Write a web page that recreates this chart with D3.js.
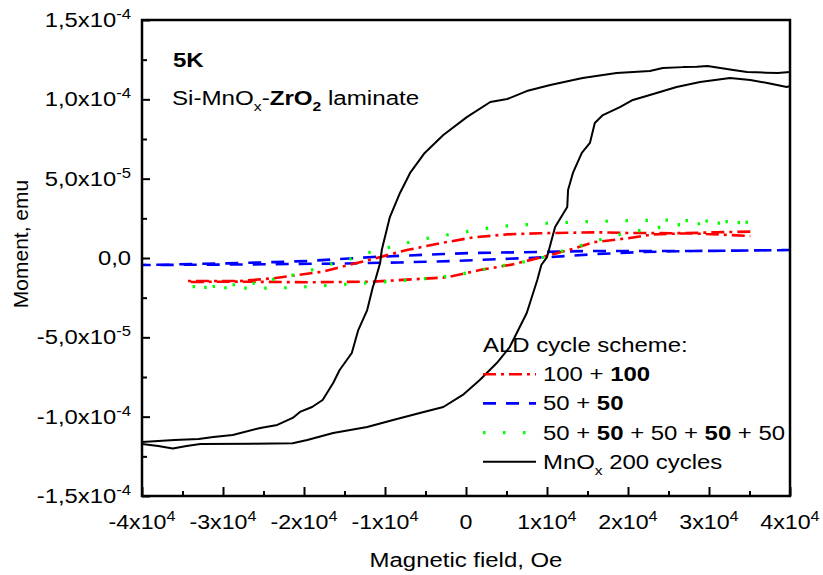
<!DOCTYPE html>
<html>
<head>
<meta charset="utf-8">
<script src="https://cdn.jsdelivr.net/npm/d3@7"></script>
<style>
  html, body { margin: 0; padding: 0; background: #fff; }
  svg text { font-family: "Liberation Sans", Arial, Helvetica, sans-serif; fill: #000; }
</style>
</head>
<body>
<svg id="chart" width="823" height="575"></svg>
<script>
// ---- axis ticks ----
const fieldTicks = [-40000, -30000, -20000, -10000, 0, 10000, 20000, 30000, 40000];
const fieldMinorTicks = [-35000, -25000, -15000, -5000, 5000, 15000, 25000, 35000];
const momentTicks = [-1.5e-4, -1.0e-4, -5.0e-5, 0, 5.0e-5, 1.0e-4, 1.5e-4];
const momentMinorTicks = [-1.25e-4, -7.5e-5, -2.5e-5, 2.5e-5, 7.5e-5, 1.25e-4];

// ---- hysteresis loops: [field (Oe), moment (emu)], field sweep down then up ----
const mnox200 = [
  [40000, 1.172e-4], [38500, 1.166e-4], [37000, 1.168e-4], [34700, 1.172e-4], [33000, 1.185e-4],
  [31400, 1.197e-4], [29800, 1.210e-4], [28500, 1.205e-4], [26800, 1.203e-4], [24300, 1.197e-4],
  [22700, 1.178e-4], [18600, 1.166e-4], [14400, 1.134e-4], [10400, 1.090e-4], [7500, 1.052e-4],
  [5100, 1.002e-4], [3000, 0.983e-4], [100, 0.888e-4], [-2800, 0.775e-4], [-5100, 0.662e-4],
  [-6900, 0.536e-4], [-8150, 0.410e-4], [-9400, 0.258e-4], [-10400, 0.050e-4], [-10600, -0.032e-4],
  [-11200, -0.139e-4], [-11500, -0.183e-4], [-12200, -0.328e-4], [-13300, -0.454e-4], [-14100, -0.599e-4],
  [-15600, -0.706e-4], [-16400, -0.788e-4], [-17700, -0.895e-4], [-19000, -0.939e-4], [-20500, -0.970e-4],
  [-21400, -1.008e-4], [-23300, -1.052e-4], [-25400, -1.071e-4], [-28800, -1.115e-4], [-31200, -1.128e-4],
  [-33000, -1.141e-4], [-36000, -1.147e-4], [-40000, -1.160e-4],
  [-40000, -1.172e-4], [-38000, -1.185e-4], [-36200, -1.200e-4], [-34500, -1.185e-4], [-32800, -1.172e-4],
  [-26300, -1.170e-4], [-21400, -1.168e-4], [-19600, -1.147e-4], [-16400, -1.103e-4], [-12200, -1.065e-4],
  [-9000, -1.021e-4], [-5700, -0.977e-4], [-2800, -0.939e-4], [-400, -0.863e-4], [1700, -0.769e-4],
  [3800, -0.662e-4], [5400, -0.561e-4], [7500, -0.347e-4], [8800, -0.139e-4], [9300, -0.044e-4],
  [10000, 0.006e-4], [11000, 0.195e-4], [12500, 0.321e-4], [12600, 0.428e-4], [13200, 0.536e-4],
  [14300, 0.662e-4], [15300, 0.725e-4], [15900, 0.851e-4], [16900, 0.901e-4], [19000, 0.951e-4],
  [20600, 0.996e-4], [22700, 1.027e-4], [26000, 1.078e-4], [28900, 1.109e-4], [32600, 1.134e-4],
  [35100, 1.122e-4], [37200, 1.103e-4], [39600, 1.078e-4], [40000, 1.084e-4]
];

const scheme100 = [
  [35100, 16.6e-6], [31000, 16.2e-6], [25600, 15.6e-6], [19900, 15.8e-6], [16200, 16.2e-6],
  [9100, 15.6e-6], [5100, 14.9e-6], [900, 13.0e-6], [-3200, 9.3e-6], [-7300, 5.0e-6],
  [-13500, -3.2e-6], [-17700, -8.6e-6], [-23800, -12.8e-6], [-27900, -14.5e-6], [-34400, -14.5e-6],
  [-34400, -15.1e-6], [-27900, -14.9e-6], [-19600, -15.3e-6], [-11500, -14.9e-6], [-2400, -12.2e-6],
  [1700, -7.6e-6], [5800, -4.0e-6], [9100, 0.2e-6], [13200, 5.7e-6], [15700, 9.9e-6],
  [19900, 12.4e-6], [23100, 14.9e-6], [27700, 15.6e-6], [35100, 13.9e-6]
];

const scheme50 = [
  [40000, 5.0e-6], [28000, 4.4e-6], [15300, 4.4e-6], [9500, 3.8e-6], [900, 3.2e-6],
  [-2800, 2.5e-6], [-4400, 2.2e-6], [-11500, 0.6e-6], [-19600, -1.9e-6], [-27900, -3.2e-6],
  [-40000, -4.4e-6],
  [-40000, -4.4e-6], [-27900, -4.1e-6], [-15600, -3.5e-6], [-8200, -2.8e-6], [-1600, -1.9e-6],
  [4600, -0.6e-6], [10400, 0.6e-6], [16200, 2.5e-6], [21900, 3.8e-6], [28000, 4.4e-6],
  [40000, 5.0e-6]
];

const scheme5x50 = [
  [34800, 22.5e-6], [29800, 23.3e-6], [24800, 23.9e-6], [19900, 23.5e-6], [14900, 22.9e-6],
  [10000, 21.9e-6], [5100, 20.2e-6], [2600, 18.7e-6], [100, 16.6e-6], [-2400, 14.5e-6],
  [-4800, 12.4e-6], [-7300, 9.6e-6], [-12100, 3.3e-6], [-14300, -0.6e-6], [-16800, -4.0e-6],
  [-19300, -8.0e-6], [-21700, -11.2e-6], [-24200, -13.9e-6], [-26700, -16.4e-6], [-29100, -17.0e-6],
  [-31600, -18.1e-6], [-34100, -18.1e-6],
  [-34100, -18.3e-6], [-26300, -19.1e-6], [-21400, -18.7e-6], [-16200, -17.0e-6], [-8500, -14.5e-6],
  [-3600, -12.4e-6], [-1100, -10.7e-6], [1400, -8.0e-6], [3800, -5.5e-6], [6300, -3.3e-6],
  [8800, -0.8e-6], [11000, 3.0e-6], [13300, 6.5e-6], [15700, 10.3e-6], [18200, 13.9e-6],
  [20600, 16.6e-6], [23100, 18.7e-6], [25600, 20.8e-6], [28000, 21.4e-6], [30500, 21.9e-6],
  [33000, 22.2e-6], [34800, 22.5e-6]
];

// legend text runs: [text, style]  style: "" | "b" | "sub" | "bsub"
const legendTitle = "ALD cycle scheme:";
const legendLabels = [
  [["100 + ", ""], ["100", "b"]],
  [["50 + ", ""], ["50", "b"]],
  [["50 + ", ""], ["50", "b"], [" + 50 + ", ""], ["50", "b"], [" + 50", ""]],
  [["MnO", ""], ["x", "sub"], [" 200 cycles", ""]]
];
const annotationTemp = "5K";
const annotationSample = [["Si-MnO", ""], ["x", "sub"], ["-", ""], ["ZrO", "b"], ["2", "bsub"], [" laminate", ""]];
const xTitle = "Magnetic field, Oe";
const yTitle = "Moment, emu";

// ---- series drawing order and styles ----
const seriesList = [
  { data: scheme50,   color: "#0000ff", dash: "13 10",        width: 2.6 },
  { data: scheme100,  color: "#ff0000", dash: "13 5 3 5",     width: 2.6 },
  { data: scheme5x50, color: "#00ff00", dash: "2.5 17.5",     width: 3.2 },
  { data: mnox200,    color: "#000000", dash: null,           width: 2.0 }
];
const legendOrder = [1, 0, 2, 3];

// ---- layout ----
const svg = d3.select("#chart");
const plotL = 142, plotT = 20, plotR = 790, plotB = 496;
const stretch = 1.14;      // horizontal widening of the lettering

const x = d3.scaleLinear().domain([-40000, 40000]).range([plotL, plotR]);
const y = d3.scaleLinear().domain([-1.5e-4, 1.5e-4]).range([plotB, plotT]);

function sciParts(v, digits) {
  if (v === 0) return [digits ? (0).toFixed(digits).replace(".", ",") : "0", null];
  const e = Math.floor(Math.log10(Math.abs(v)) + 1e-9);
  const m = v / Math.pow(10, e);
  return [m.toFixed(digits).replace(".", ",") + "x10", String(e)];
}

// text placed at (px, py), widened horizontally by sx
function addText(px, py, size, anchor, sx) {
  return svg.append("text")
    .attr("transform", `translate(${px},${py}) scale(${sx},1)`)
    .attr("x", 0).attr("y", 0)
    .attr("text-anchor", anchor)
    .attr("font-size", size);
}

function addRuns(textSel, runs, size) {
  let shift = 0;
  runs.forEach(([t, style]) => {
    const ts = textSel.append("tspan").text(t);
    if (style === "b" || style === "bsub") ts.attr("font-weight", "bold");
    const isSub = style === "sub" || style === "bsub";
    const target = isSub ? size * 0.28 : 0;
    if (target !== shift) { ts.attr("dy", target - shift); shift = target; }
    if (isSub) ts.attr("font-size", size * 0.65);
  });
}

// ---- plot lines (clipped to frame) ----
svg.append("clipPath").attr("id", "plotClip")
  .append("rect").attr("x", plotL).attr("y", plotT).attr("width", plotR - plotL).attr("height", plotB - plotT);

const line = d3.line().x(d => x(d[0])).y(d => y(d[1]));
const plot = svg.append("g").attr("clip-path", "url(#plotClip)");
seriesList.forEach(s => {
  plot.append("path")
    .datum(s.data)
    .attr("d", line)
    .attr("fill", "none")
    .attr("stroke", s.color)
    .attr("stroke-width", s.width)
    .attr("stroke-linejoin", "round")
    .attr("stroke-dasharray", s.dash);
});

// ---- axes (ticks pointing inward) ----
const tickStroke = 2;
const xAxis = svg.append("g").attr("transform", `translate(0,${plotB})`)
  .call(d3.axisBottom(x).tickValues(fieldTicks).tickSizeInner(-9).tickSizeOuter(0).tickFormat(""));
const xMinor = svg.append("g").attr("transform", `translate(0,${plotB})`)
  .call(d3.axisBottom(x).tickValues(fieldMinorTicks).tickSizeInner(-5).tickSizeOuter(0).tickFormat(""));
const yAxis = svg.append("g").attr("transform", `translate(${plotL},0)`)
  .call(d3.axisLeft(y).tickValues(momentTicks).tickSizeInner(-8).tickSizeOuter(0).tickFormat(""));
const yMinor = svg.append("g").attr("transform", `translate(${plotL},0)`)
  .call(d3.axisLeft(y).tickValues(momentMinorTicks).tickSizeInner(-5).tickSizeOuter(0).tickFormat(""));
[xAxis, xMinor, yAxis, yMinor].forEach(g => {
  g.select(".domain").remove();
  g.selectAll(".tick line").attr("stroke", "#000").attr("stroke-width", tickStroke);
  g.selectAll(".tick text").remove();
});

// frame
svg.append("rect")
  .attr("x", plotL).attr("y", plotT).attr("width", plotR - plotL).attr("height", plotB - plotT)
  .attr("fill", "none").attr("stroke", "#000").attr("stroke-width", 2.5);

// tick labels
const tickSize = 20, supSize = 14, supRise = -8;
fieldTicks.forEach(v => {
  const [main, sup] = sciParts(v, 0);
  const t = addText(x(v), plotB + 33, tickSize, "middle", 1.16);
  t.append("tspan").text(main);
  if (sup) t.append("tspan").attr("font-size", supSize).attr("dy", supRise).text(sup);
});
momentTicks.forEach(v => {
  const [main, sup] = sciParts(v, 1);
  const t = addText(plotL - 11, y(v) + 7, tickSize, "end", 1.19);
  t.append("tspan").text(main);
  if (sup) t.append("tspan").attr("font-size", supSize).attr("dy", supRise).text(sup);
});

// axis titles
addText((plotL + plotR) / 2, 567, 21, "middle", stretch).text(xTitle);
svg.append("text")
  .attr("transform", `translate(28,${(plotT + plotB) / 2 - 14}) rotate(-90)`)
  .attr("text-anchor", "middle").attr("font-size", 21)
  .text(yTitle);

// annotations
addText(173, 67, 20, "start", 1.2).attr("font-weight", "bold").text(annotationTemp);
addRuns(addText(172, 105, 21, "start", 1.15), annotationSample, 21);

// legend
const legX = 483, legLineEnd = 536, legTextX = 543, legTitleY = 352, legStep = 29.2;
addText(legX, legTitleY, 21, "start", stretch).text(legendTitle);
legendOrder.forEach((si, i) => {
  const s = seriesList[si];
  const by = legTitleY + legStep * (i + 1);
  svg.append("line")
    .attr("x1", legX).attr("x2", legLineEnd)
    .attr("y1", by - 7).attr("y2", by - 7)
    .attr("stroke", s.color).attr("stroke-width", s.width)
    .attr("stroke-dasharray", s.dash);
  addRuns(addText(legTextX, by, 21, "start", stretch), legendLabels[i], 21);
});
</script>
</body>
</html>
